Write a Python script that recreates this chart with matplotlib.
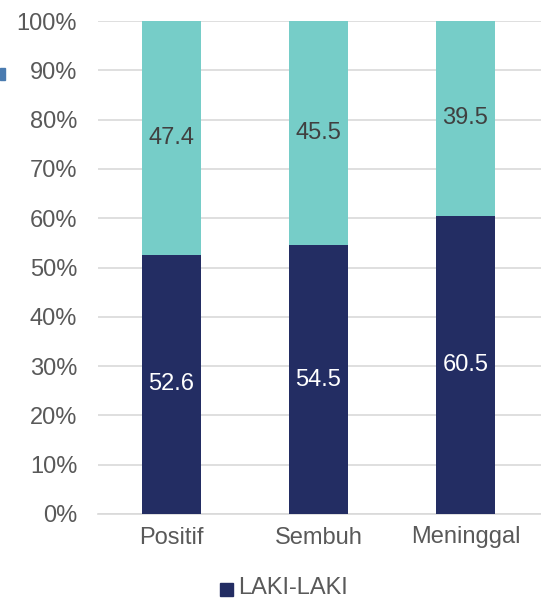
import matplotlib
matplotlib.use("Agg")
import matplotlib.pyplot as plt
from matplotlib.patches import Rectangle
import numpy as np

plt.rcParams['font.family'] = ['Liberation Sans', 'DejaVu Sans']

categories = ["Positif", "Sembuh", "Meninggal"]
laki_laki = [52.6, 54.5, 60.5]
perempuan = [47.4, 45.5, 39.5]
yticks = [0, 10, 20, 30, 40, 50, 60, 70, 80, 90, 100]
legend_label = "LAKI-LAKI"

navy = "#232d63"
teal = "#76cdc8"
text_gray = "#595959"
grid_gray = "#d9d9d9"
fs = 17

fig = plt.figure(figsize=(5.41, 5.98), dpi=100)
ax = fig.add_axes([98 / 541, 1 - 514 / 598, 443 / 541, 493 / 598])

x = np.arange(len(categories))
w = 0.4
ax.bar(x, laki_laki, width=w, color=navy, zorder=3)
ax.bar(x, perempuan, width=w, bottom=laki_laki, color=teal, zorder=3)

for i in range(len(categories)):
    ax.text(x[i], laki_laki[i] / 2, f"{laki_laki[i]:.1f}", ha="center", va="center",
            color="white", fontsize=fs, zorder=4)
    ax.text(x[i], laki_laki[i] + perempuan[i] / 2, f"{perempuan[i]:.1f}", ha="center",
            va="center", color="#404040", fontsize=fs, zorder=4)

ax.set_xlim(-0.5, len(categories) - 0.5 + 2 / 147)
ax.set_ylim(0, 100)
ax.set_yticks(yticks)
ax.set_yticklabels([f"{v}%" for v in yticks])
ax.set_xticks(x)
ax.set_xticklabels(categories)
ax.yaxis.grid(True, color=grid_gray, linewidth=1.2, zorder=0)
ax.set_axisbelow(True)
for s in ["top", "right", "left"]:
    ax.spines[s].set_visible(False)
ax.spines["bottom"].set_color(grid_gray)
ax.spines["bottom"].set_linewidth(1.2)
ax.tick_params(axis="both", length=0, labelsize=fs, colors=text_gray)
ax.tick_params(axis="y", pad=15)
ax.tick_params(axis="x", pad=9)

# legend below the plot
fig.patches.append(Rectangle((220 / 541, 1 - 596 / 598), 13 / 541, 13 / 598,
                             transform=fig.transFigure, color=navy))
fig.text(238 / 541, 1 - 588 / 598, legend_label, ha="left", va="center",
         fontsize=fs, color=text_gray)

# partial marker at the left edge
fig.patches.append(Rectangle((0, 1 - 80 / 598), 5 / 541, 12 / 598,
                             transform=fig.transFigure, color="#4a7bb0"))

fig.savefig("out.png", dpi=100)
